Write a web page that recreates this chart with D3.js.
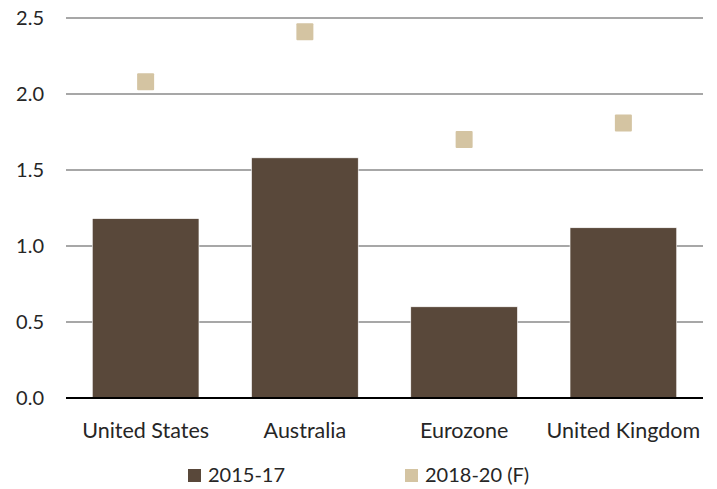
<html lang='en'>
    <head>
        <script src="https://d3js.org/d3.v7.min.js" charset="utf-8"></script>
        <style>
        body { margin: 0; background: #fff; }
        text { font-family: 'Lato', 'Open Sans', sans-serif; fill: #262626; }
        </style>
    </head>
    <body>
        <script>
            // data
            var categories = ["United States", "Australia", "Eurozone", "United Kingdom"]
            var past = [1.18, 1.58, 0.60, 1.12]        // 2015-17
            var forecast = [2.08, 2.41, 1.70, 1.81]    // 2018-20 (F)
            var yTicks = [0, 0.5, 1.0, 1.5, 2.0, 2.5]
            var seriesNames = ["2015-17", "2018-20 (F)"]

            var width = 717
            var height = 489
            var margin = {top: 18, right: 14, bottom: 90, left: 66}

            var svg = d3.select("body")
                        .append("svg")
                        .attr("width", width)
                        .attr("height", height)

            var x = d3.scaleBand()
                .domain(categories)
                .range([margin.left, width - margin.right])
                .paddingInner(0.33)
                .paddingOuter(0.165)

            var y = d3.scaleLinear()
                .domain([0, 2.5])
                .range([height - margin.bottom - 1, margin.top])

            // gridlines
            svg.append("g")
               .selectAll("line")
               .data(yTicks.slice(1))
               .enter().append("line")
               .attr("x1", margin.left)
               .attr("x2", width - margin.right)
               .attr("y1", function(d) { return y(d) })
               .attr("y2", function(d) { return y(d) })
               .style("stroke", "#8a8a8a")
               .style("stroke-width", 1.5)

            // y labels
            svg.append("g")
               .selectAll("text")
               .data(yTicks)
               .enter().append("text")
               .attr("x", 44)
               .attr("y", function(d) { return y(d) })
               .attr("dy", "0.35em")
               .attr("text-anchor", "end")
               .style("font-size", "20px")
               .text(d3.format(".1f"))

            // bars
            svg.append("g")
               .selectAll("rect")
               .data(past)
               .enter().append("rect")
               .attr("x", function(d, i) { return x(categories[i]) })
               .attr("width", x.bandwidth())
               .attr("y", function(d) { return y(d) })
               .attr("height", function(d) { return y(0) - y(d) })
               .style("fill", "#59483a")
               .style("stroke", "#ffffff")
               .style("stroke-width", 0.6)

            // baseline
            svg.append("line")
               .attr("x1", margin.left)
               .attr("x2", width - margin.right)
               .attr("y1", y(0))
               .attr("y2", y(0))
               .style("stroke", "#000")
               .style("stroke-width", 2)

            // forecast markers
            var sq = 17
            svg.append("g")
               .selectAll("rect")
               .data(forecast)
               .enter().append("rect")
               .attr("x", function(d, i) { return x(categories[i]) + x.bandwidth() / 2 - sq / 2 })
               .attr("y", function(d) { return y(d) - sq / 2 })
               .attr("width", sq)
               .attr("height", sq)
               .attr("rx", 1)
               .style("fill", "#d4c4a2")

            // category labels
            svg.append("g")
               .selectAll("text")
               .data(categories)
               .enter().append("text")
               .attr("x", function(d) { return x(d) + x.bandwidth() / 2 })
               .attr("y", 430)
               .attr("dy", "0.35em")
               .attr("text-anchor", "middle")
               .style("font-size", "21.5px")
               .text(function(d) { return d })

            // legend
            var legendX = [188, 405]
            var legendColors = ["#59483a", "#d4c4a2"]
            var legend = svg.append("g")
               .selectAll("g")
               .data(seriesNames)
               .enter().append("g")
               .attr("transform", function(d, i) { return "translate(" + legendX[i] + ",475)" })
            legend.append("rect")
               .attr("x", 0)
               .attr("y", -6)
               .attr("width", 13)
               .attr("height", 13)
               .style("fill", function(d, i) { return legendColors[i] })
            legend.append("text")
               .attr("x", 20)
               .attr("dy", "0.35em")
               .style("font-size", "20px")
               .text(function(d) { return d })
        </script>
    </body>
</html>
